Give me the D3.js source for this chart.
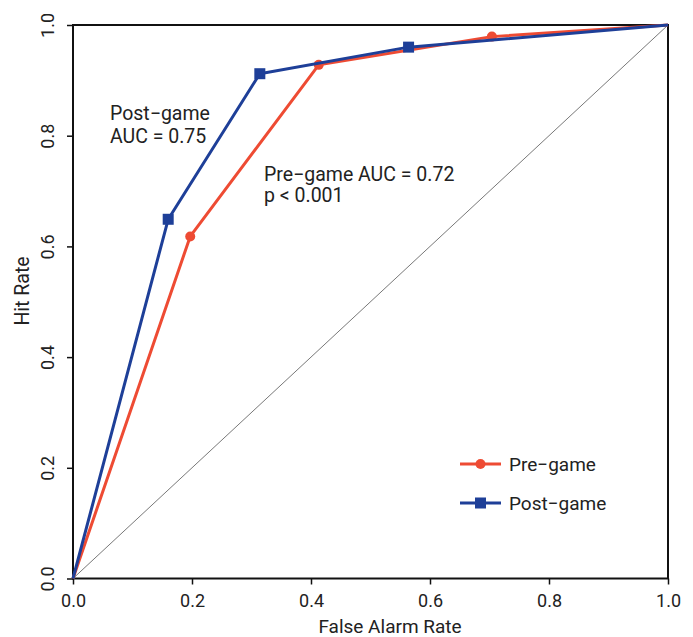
<!DOCTYPE html>
<html>
<head>
<meta charset="utf-8">
<script src="https://cdn.jsdelivr.net/npm/d3@7"></script>
<style>
  body { margin: 0; background: #fff; }
  svg text { font-family: Roboto, "Noto Sans", sans-serif; fill: #222; }
</style>
</head>
<body>
<svg id="chart" width="693" height="637"></svg>
<script>
// ROC points
const preFar = [0, 0.197, 0.413, 0.704, 1];
const preHit = [0, 0.618, 0.928, 0.979, 1];
const postFar = [0, 0.160, 0.314, 0.564, 1];
const postHit = [0, 0.649, 0.912, 0.960, 1];
const ticks = [0, 0.2, 0.4, 0.6, 0.8, 1.0];

const red = '#ee4b33';
const blue = '#1e3f98';

const svg = d3.select('#chart');
const m = { left: 73, right: 25, top: 25, bottom: 58.5 };
const W = 693, H = 637;

const x = d3.scaleLinear().domain([0, 1]).range([m.left, W - m.right]);
const y = d3.scaleLinear().domain([0, 1]).range([H - m.bottom, m.top]);

// diagonal chance line
svg.append('line')
    .attr('x1', x(0)).attr('y1', y(0))
    .attr('x2', x(1)).attr('y2', y(1))
    .attr('stroke', '#555').attr('stroke-width', 0.8);

// axes
const xAxis = svg.append('g')
    .attr('transform', `translate(0,${y(0)})`)
    .call(d3.axisBottom(x).tickValues(ticks).tickFormat(d3.format('.1f')).tickSizeOuter(0).tickSize(6));
const yAxis = svg.append('g')
    .attr('transform', `translate(${x(0)},0)`)
    .call(d3.axisLeft(y).tickValues(ticks).tickFormat(d3.format('.1f')).tickSizeOuter(0).tickSize(6));

[xAxis, yAxis].forEach(a => {
    a.select('.domain').remove();
    a.selectAll('.tick line').attr('stroke', '#111').attr('stroke-width', 1.5);
    a.selectAll('.tick text').attr('font-size', 18).style('font-family', 'Roboto, sans-serif').attr('fill', '#222');
});
xAxis.selectAll('.tick text').attr('dy', null).attr('y', 28.5);
// y tick labels rotated
yAxis.selectAll('.tick text')
    .attr('x', null).attr('dy', null)
    .attr('text-anchor', 'middle')
    .attr('transform', 'translate(-19,0) rotate(-90)');

// frame
svg.append('rect')
    .attr('x', x(0)).attr('y', y(1))
    .attr('width', x(1) - x(0)).attr('height', y(0) - y(1))
    .attr('fill', 'none').attr('stroke', '#111').attr('stroke-width', 2);

// axis titles
svg.append('text')
    .attr('x', 390).attr('y', 633)
    .attr('text-anchor', 'middle').attr('font-size', 19)
    .text('False Alarm Rate');
svg.append('text')
    .attr('transform', 'translate(29,291) rotate(-90)')
    .attr('text-anchor', 'middle').attr('font-size', 19.5)
    .text('Hit Rate');

const line = d3.line().x(d => x(d[0])).y(d => y(d[1]));
const pre = preFar.map((f, i) => [f, preHit[i]]);
const post = postFar.map((f, i) => [f, postHit[i]]);

svg.append('path').datum(pre)
    .attr('d', line).attr('fill', 'none')
    .attr('stroke', red).attr('stroke-width', 3).attr('stroke-linejoin', 'round');
svg.selectAll('.preDot').data(pre.slice(1, -1)).enter()
    .append('circle')
    .attr('cx', d => x(d[0])).attr('cy', d => y(d[1]))
    .attr('r', 5).attr('fill', red);

svg.append('path').datum(post)
    .attr('d', line).attr('fill', 'none')
    .attr('stroke', blue).attr('stroke-width', 3).attr('stroke-linejoin', 'round');
svg.selectAll('.postDot').data(post.slice(1, -1)).enter()
    .append('rect')
    .attr('x', d => x(d[0]) - 5.5).attr('y', d => y(d[1]) - 5.5)
    .attr('width', 11).attr('height', 11).attr('fill', blue);

// annotations
const ann = svg.append('g').attr('font-size', 19.5);
ann.append('text').attr('x', 110).attr('y', 120).text('Post\u2212game');
ann.append('text').attr('x', 110).attr('y', 143).text('AUC = 0.75');
ann.append('text').attr('x', 264).attr('y', 181).text('Pre\u2212game AUC = 0.72');
ann.append('text').attr('x', 264).attr('y', 202).text('p < 0.001');

// legend
const legend = [
    { name: 'Pre\u2212game', color: red, shape: 'circle', y: 464 },
    { name: 'Post\u2212game', color: blue, shape: 'square', y: 503 }
];
legend.forEach(l => {
    const g = svg.append('g');
    g.append('line')
        .attr('x1', 460).attr('x2', 501).attr('y1', l.y).attr('y2', l.y)
        .attr('stroke', l.color).attr('stroke-width', 3);
    if (l.shape === 'circle') {
        g.append('circle').attr('cx', 480.5).attr('cy', l.y).attr('r', 5).attr('fill', l.color);
    } else {
        g.append('rect').attr('x', 475).attr('y', l.y - 5.5).attr('width', 11).attr('height', 11).attr('fill', l.color);
    }
    g.append('text').attr('x', 509).attr('y', l.y).attr('dy', '0.35em')
        .attr('font-size', 19).text(l.name);
});
</script>
</body>
</html>
